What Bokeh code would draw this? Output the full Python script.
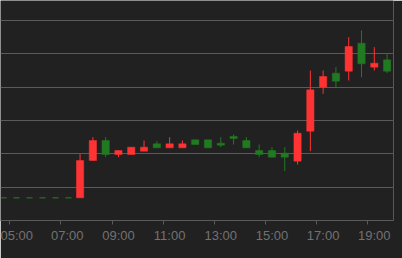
from bokeh.plotting import figure
from bokeh.models import FixedTicker, Grid, Range1d, ColumnDataSource
from bokeh.embed import file_html
from bokeh.resources import INLINE

# ---- data (30-minute candles) ----
times = ["07:30", "08:00", "08:30", "09:00", "09:30", "10:00", "10:30", "11:00",
         "11:30", "12:00", "12:30", "13:00", "13:30", "14:00", "14:30", "15:00",
         "15:30", "16:00", "16:30", "17:00", "17:30", "18:00", "18:30", "19:00", "19:30"]
opens = [20.34, 20.90, 21.20, 20.99, 20.99, 21.04, 21.15, 21.09, 21.09, 21.21, 21.21, 21.16,
         21.26, 21.20, 21.05, 21.05, 21.01, 20.89, 21.34, 22.00, 22.21, 22.24, 22.66, 22.30, 22.41]
highs = [21.00, 21.25, 21.25, 21.05, 21.10, 21.20, 21.19, 21.25, 21.20, 21.21, 21.21, 21.25,
         21.29, 21.25, 21.14, 21.10, 21.10, 21.35, 22.25, 22.25, 22.30, 22.75, 22.85, 22.60, 22.51]
lows = [20.34, 20.90, 20.95, 20.95, 20.99, 21.04, 21.09, 21.09, 21.09, 21.14, 21.09, 21.10,
        21.14, 21.09, 20.95, 20.95, 20.74, 20.84, 21.04, 21.90, 22.00, 22.10, 22.15, 22.25, 22.21]
closes = [20.90, 21.20, 20.99, 21.05, 21.10, 21.10, 21.09, 21.15, 21.15, 21.14, 21.09, 21.13,
          21.23, 21.09, 20.99, 20.95, 20.95, 21.31, 21.96, 22.16, 22.09, 22.61, 22.35, 22.36, 22.24]
prev_close = 20.34
prev_close_until = "07:15"
tick_labels = ["05:00", "07:00", "09:00", "11:00", "13:00", "15:00", "17:00", "19:00"]
grid_levels = [20.5, 21.0, 21.5, 22.0, 22.5, 23.0]
slot_hours = 0.5

UP = "#ff3333"
DOWN = "#217a21"
BG = "#212121"
GRID = "#5a5a5a"
LABEL = "#727272"


def to_h(s):
    h, m = s.split(":")
    return int(h) + int(m) / 60.0


xs = [to_h(t) for t in times]
tops = [max(o, c) for o, c in zip(opens, closes)]
bots = [min(o, c) for o, c in zip(opens, closes)]
cols = [UP if c >= o else DOWN for o, c in zip(opens, closes)]
src = ColumnDataSource(dict(x=xs, o=opens, h=highs, l=lows, c=closes,
                            top=tops, bot=bots, col=cols))

x_start, x_end = 4.39, 19.75
p = figure(frame_width=393, frame_height=220, output_backend="svg", toolbar_location=None,
           x_range=Range1d(x_start, x_end), y_range=Range1d(20.0, 23.30),
           y_axis_location=None, min_border_left=0, min_border_right=9,
           min_border_top=0, min_border_bottom=38)
p.background_fill_color = BG
p.border_fill_color = BG
p.outline_line_color = None
p.xgrid.visible = False
p.ygrid.visible = False

p.add_layout(Grid(dimension=1, ticker=FixedTicker(ticks=grid_levels),
                  grid_line_color=GRID, grid_line_width=1))

tick_pos = [to_h(t) for t in tick_labels]
ax = p.xaxis[0]
ax.ticker = FixedTicker(ticks=tick_pos, minor_ticks=[t - slot_hours / 2 for t in tick_pos])
ax.major_label_overrides = {t: lab for t, lab in zip(tick_pos, tick_labels)}
ax.axis_line_color = GRID
ax.major_tick_line_color = None
ax.major_tick_out = 0
ax.major_tick_in = 0
ax.minor_tick_line_color = GRID
ax.minor_tick_out = 4
ax.minor_tick_in = 0
ax.major_label_text_color = LABEL
ax.major_label_text_font = "Liberation Sans"
ax.major_label_text_font_size = "13px"
ax.major_label_standoff = 3

# previous close dashed line
p.line([x_start, to_h(prev_close_until)], [prev_close, prev_close],
       line_color="#1f8a1f", line_width=1, line_dash="6 7")

p.segment(x0="x", y0="h", x1="x", y1="l", source=src, line_color="col", line_width=1)
p.vbar(x="x", top="top", bottom="bot", width=0.285, source=src,
       fill_color="col", line_color="col", line_width=0.5)

open("out.html", "w").write(file_html(p, INLINE))
